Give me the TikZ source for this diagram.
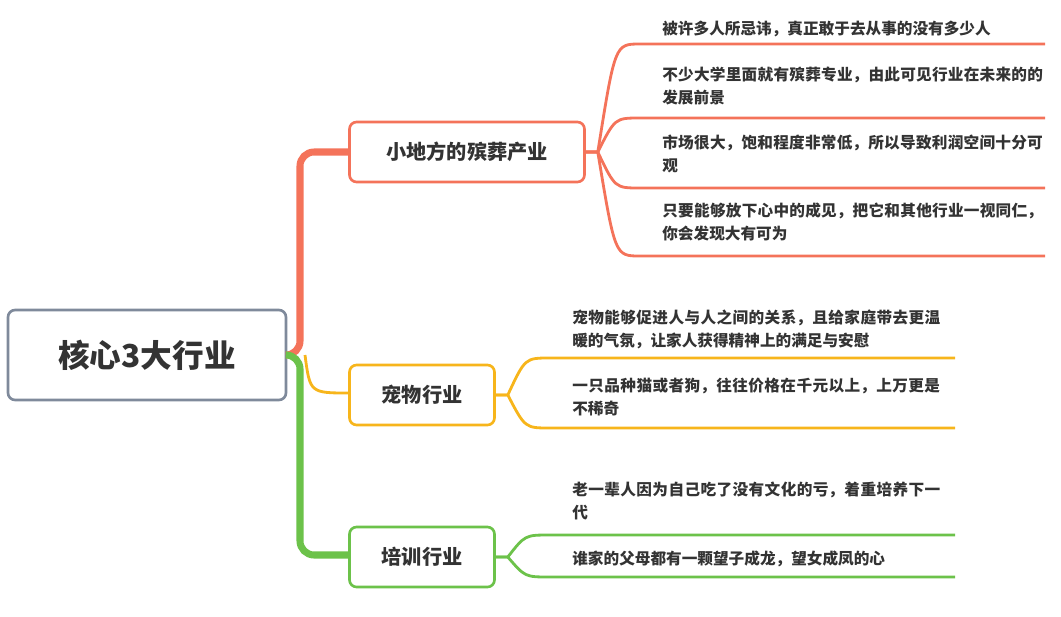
\documentclass[tikz,border=0pt]{standalone}
\usepackage{fontspec}
\setmainfont{Noto Sans CJK SC}
\XeTeXlinebreaklocale "zh"
\XeTeXlinebreakskip=0pt plus 1pt
\definecolor{cred}{HTML}{F4735A}
\definecolor{cyel}{HTML}{F7B51B}
\definecolor{cgrn}{HTML}{6CC24A}
\definecolor{cgry}{HTML}{7F8A9B}
\definecolor{ctxt}{HTML}{333333}
\tikzset{
  box/.style={draw, rounded corners=4pt, line width=1.5pt, fill=white, text=ctxt, font=\bfseries\fontsize{11.5}{13}\selectfont, inner xsep=8pt, minimum height=1.2cm},
  leaf/.style={anchor=north west, align=left, text width=7.7cm, text=ctxt, font=\bfseries\fontsize{8.9}{13}\selectfont, inner sep=0pt},
  branch/.style={line width=1.6pt}
}
\begin{document}
\begin{tikzpicture}[x=0.02cm, y=-0.02cm]
\useasboundingbox (0,0) rectangle (1061,616);
% root
\node[box, draw=cgry, minimum width=5.56cm, minimum height=1.8cm, font=\bfseries\fontsize{18}{20}\selectfont] (root) at (147,355) {核心3大行业};
% trunks
\draw[cred, line width=4pt, rounded corners=8pt] (root.east) -- (300,355) -- (300,152) -- (350,152);
\draw[cgrn, line width=4pt, rounded corners=8pt] (root.east) -- (300,355) -- (300,555) -- (350,555);
\draw[cyel, branch] (305,355) .. controls (310,393) .. (350,393);
% boxes
\node[box, draw=cred, minimum width=4.7cm] (b1) at (467,152) {小地方的殡葬产业};
\node[box, draw=cyel, minimum width=2.9cm] (b2) at (422,395) {宠物行业};
\node[box, draw=cgrn, minimum width=2.9cm] (b3) at (422,557) {培训行业};
% red leaves
\foreach \y [count=\i] in {44,118,188,256}{
  \coordinate (r\i s) at (640,\y);
  \coordinate (r\i e) at (1045,\y);
  \draw[cred, branch] (b1.east) -- ++(12,0) .. controls (615,\y) .. (r\i s) -- (r\i e);
}
\node[leaf] (t1) at (662,21) {被许多人所忌讳，真正敢于去从事的没有多少人};
\node[leaf] (t2) at (662,67) {不少大学里面就有殡葬专业，由此可见行业在未来的的发展前景};
\node[leaf] (t3) at (662,135) {市场很大，饱和程度非常低，所以导致利润空间十分可观};
\node[leaf] (t4) at (662,203) {只要能够放下心中的成见，把它和其他行业一视同仁，你会发现大有可为};
% yellow leaves
\foreach \y [count=\i] in {358,428}{
  \coordinate (y\i s) at (550,\y);
  \coordinate (y\i e) at (955,\y);
  \draw[cyel, branch] (b2.east) -- ++(12,0) .. controls (525,\y) .. (y\i s) -- (y\i e);
}
\node[leaf, text width=7.5cm] (t5) at (572,310) {宠物能够促进人与人之间的关系，且给家庭带去更温暖的气氛，让家人获得精神上的满足与安慰};
\node[leaf, text width=7.5cm] (t6) at (572,378) {一只品种猫或者狗，往往价格在千元以上，上万更是不稀奇};
% green leaves
\foreach \y [count=\i] in {535,577}{
  \coordinate (g\i s) at (550,\y);
  \coordinate (g\i e) at (955,\y);
  \draw[cgrn, branch] (b3.east) -- ++(12,0) .. controls (525,\y) .. (g\i s) -- (g\i e);
}
\node[leaf, text width=7.5cm] (t7) at (572,482) {老一辈人因为自己吃了没有文化的亏，着重培养下一代};
\node[leaf, text width=7.5cm] (t8) at (572,551) {谁家的父母都有一颗望子成龙，望女成凤的心};
\end{tikzpicture}
\end{document}
